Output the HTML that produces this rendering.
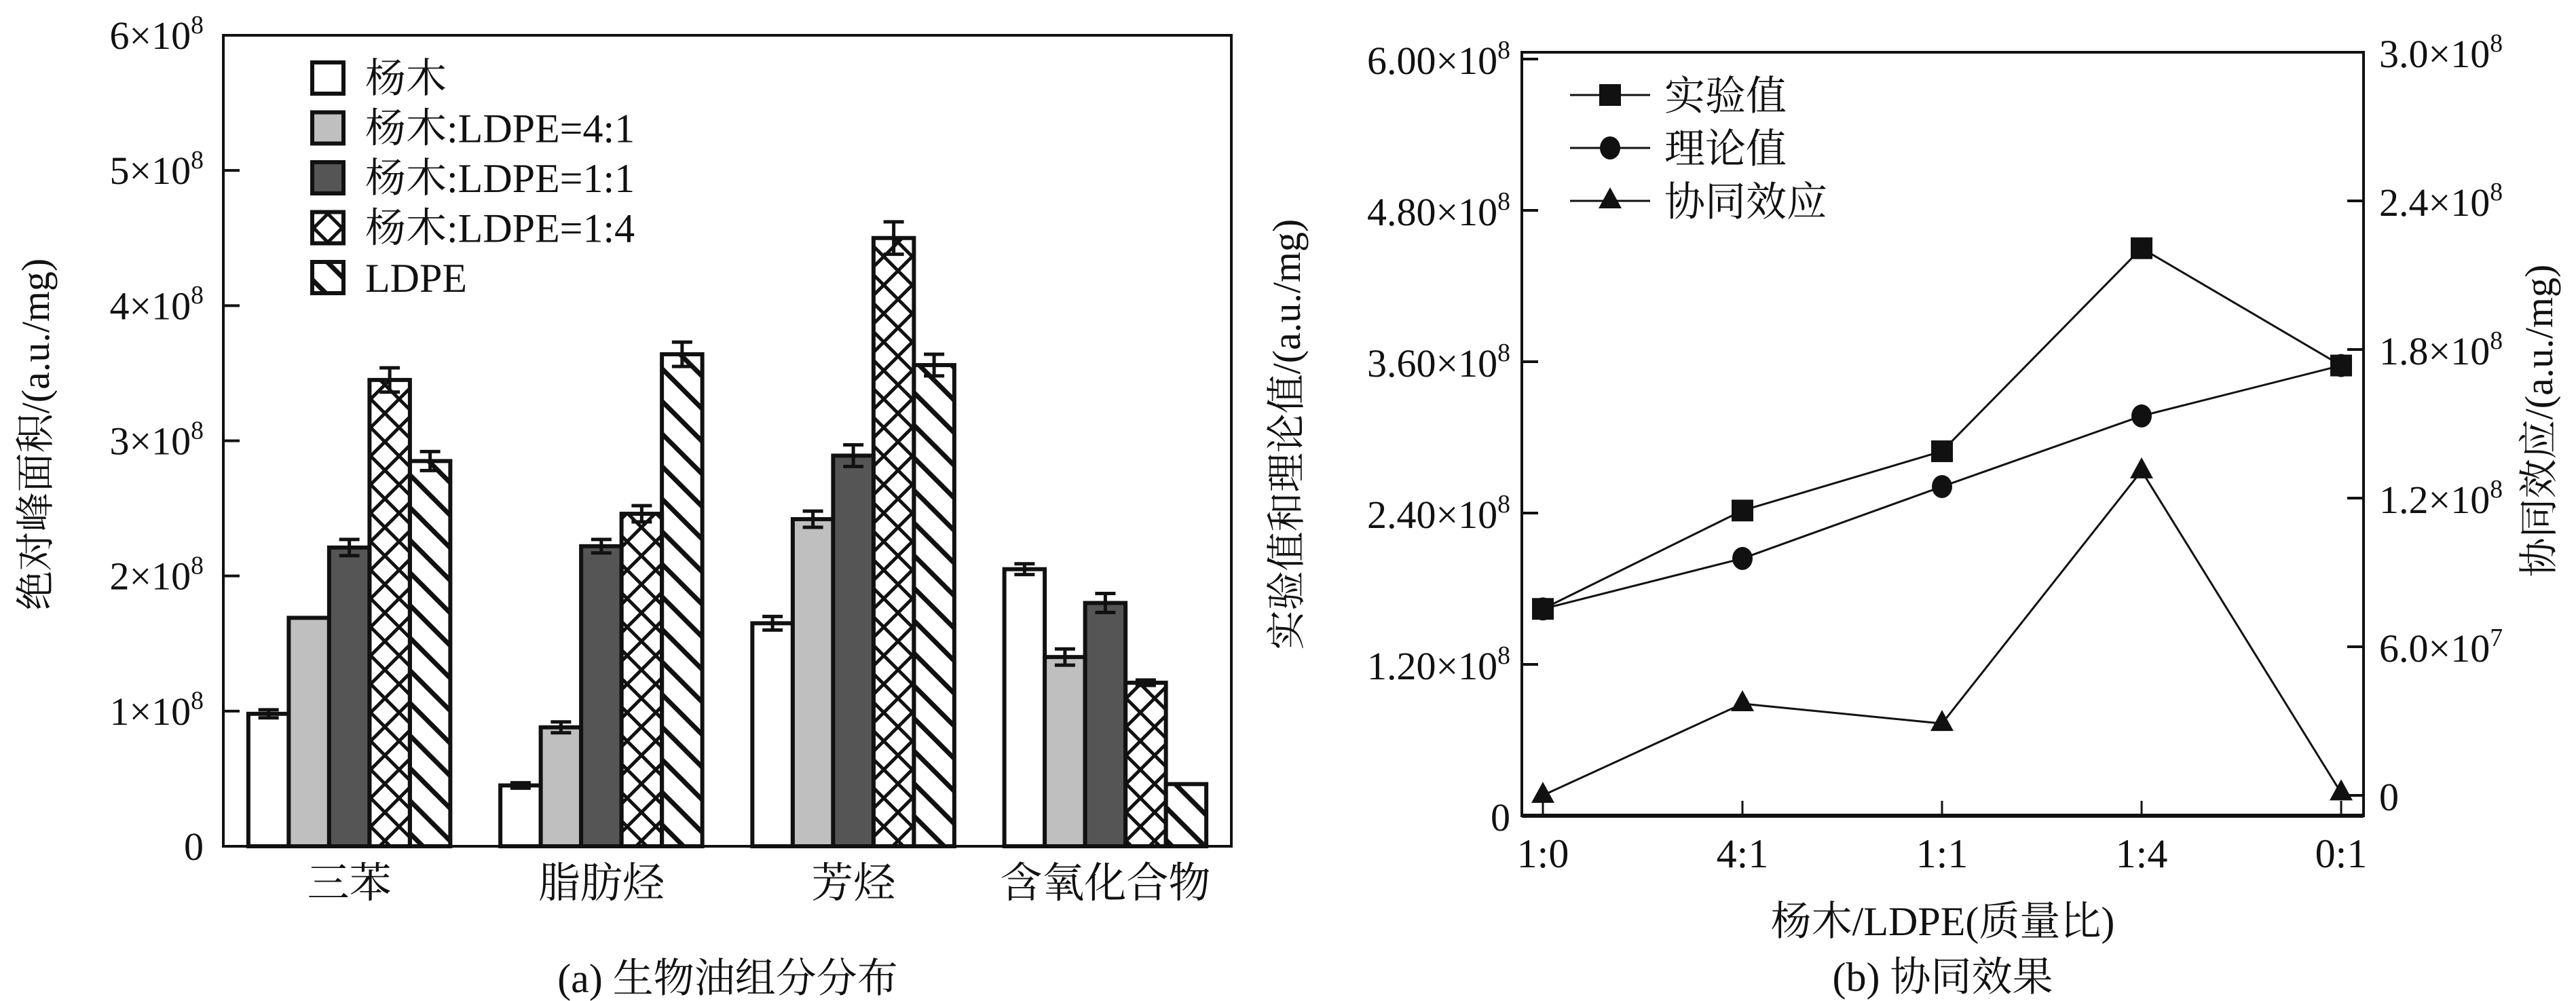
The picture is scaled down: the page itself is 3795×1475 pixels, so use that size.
<!DOCTYPE html>
<html><head><meta charset="utf-8">
<style>
html,body{margin:0;padding:0;background:#fff;}
svg{display:block;}
text{font-family:"Liberation Serif","Noto Serif CJK SC",serif;fill:#111;}
</style></head>
<body>
<svg id="chart" width="3795" height="1475" viewBox="0 0 3795 1475" xmlns="http://www.w3.org/2000/svg">
<defs>
<pattern id="cross" patternUnits="userSpaceOnUse" width="42" height="42">
<path d="M0,0L42,42M42,0L0,42M-5,37L5,47M37,-5L47,5M-5,5L5,-5M37,47L47,37" stroke="#111" stroke-width="5"/>
</pattern>
<pattern id="diag" patternUnits="userSpaceOnUse" width="48" height="48">
<path d="M0,0L48,48M-12,36L12,60M36,-12L60,12" stroke="#111" stroke-width="7"/>
</pattern>
</defs>
<g id="left"></g>
<g id="right"></g>
</svg>
<script>
const categories = ["三苯","脂肪烃","芳烃","含氧化合物"];
const seriesNames = ["杨木","杨木:LDPE=4:1","杨木:LDPE=1:1","杨木:LDPE=1:4","LDPE"];
const valPoplar = [0.98,0.45,1.65,2.05];
const val41 = [1.69,0.88,2.42,1.40];
const val11 = [2.21,2.22,2.89,1.80];
const val14 = [3.45,2.46,4.50,1.21];
const valLDPE = [2.85,3.64,3.56,0.46];
const errPoplar = [0.03,0.02,0.05,0.04];
const err41 = [0,0.04,0.06,0.06];
const err11 = [0.06,0.05,0.08,0.07];
const err14 = [0.09,0.06,0.12,0.02];
const errLDPE = [0.07,0.09,0.08,0];
const leftTicks = [0,1,2,3,4,5,6];

const ratios = ["1:0","4:1","1:1","1:4","0:1"];
const expVals = [1.64,2.42,2.89,4.50,3.57];
const theoVals = [1.64,2.04,2.61,3.17,3.57];
const synVals = [0.0,0.37,0.29,1.31,0.01];
const rLeftTicks = ["0","1.20","2.40","3.60","4.80","6.00"];
const rRightTicks = ["0","6.0","1.2","1.8","2.4","3.0"];
const rRightExp = [0,7,8,8,8,8];

const NS="http://www.w3.org/2000/svg";
function mk(parent,tag,attrs,txt){const e=document.createElementNS(NS,tag);for(const k in attrs)e.setAttribute(k,attrs[k]);if(txt!==undefined)e.textContent=txt;parent.appendChild(e);return e;}
function sci(parent,x,y,mant,exp,anchor,size){
  const t=mk(parent,'text',{x:x,y:y,'text-anchor':anchor,'font-size':size});
  if(exp===null){t.textContent=mant;return t;}
  const a=document.createElementNS(NS,'tspan');a.textContent=mant+'×10';t.appendChild(a);
  const b=document.createElementNS(NS,'tspan');b.setAttribute('dy',-size*0.4);b.setAttribute('font-size',size*0.65);b.textContent=exp;t.appendChild(b);
  return t;
}

/* ---------- left bar chart ---------- */
const L=document.getElementById('left');
const lx0=329,lx1=1814,ly0=52,ly1=1247;
const yL=v=>ly1-(v/6)*(ly1-ly0);
const groupW=(lx1-lx0)/categories.length, barW=59.5;
const fills=["#fff","#bfbfbf","#555","url(#cross)","url(#diag)"];
const allVals=[valPoplar,val41,val11,val14,valLDPE];
const allErr=[errPoplar,err41,err11,err14,errLDPE];
const keys=['poplar','4-1','1-1','1-4','ldpe'];
let f=mk(L,'rect',{x:lx0,y:ly0,width:lx1-lx0,height:ly1-ly0,fill:'none',stroke:'#111','stroke-width':4});

leftTicks.forEach(v=>{
  const y=yL(v);
  const tk=mk(L,'line',{x1:lx0,x2:lx0+24,y1:y,y2:y,stroke:'#111','stroke-width':4});
  
  const t=sci(L,300,y+20,v===0?'0':String(v),v===0?null:'8','end',58);
  
});
categories.forEach((c,i)=>{
  const gx=lx0+groupW*i+groupW/2-barW*2.5;
  allVals.forEach((arr,s)=>{
    const x=gx+s*barW, v=arr[i];
    const r=mk(L,'rect',{x:x,y:yL(v),width:barW,height:ly1-yL(v),fill:fills[s],stroke:'#111','stroke-width':6});
    
    const e=allErr[s][i];
    if(e>0){
      const cx=x+barW/2,ya=yL(v+e),yb=yL(v-e);
      const g=mk(L,'path',{d:`M${cx},${ya}V${yb}M${cx-15},${ya}H${cx+15}M${cx-15},${yb}H${cx+15}`,stroke:'#111','stroke-width':5,fill:'none'});
      
    }
  });
  const t=mk(L,'text',{x:lx0+groupW*i+groupW/2,y:1322,'text-anchor':'middle','font-size':62},c);
  
});
seriesNames.forEach((n,s)=>{
  const y=92+s*73.5;
  const b=mk(L,'rect',{x:460,y:y,width:46,height:46,fill:fills[s],stroke:'#111','stroke-width':6});
  
  const t=mk(L,'text',{x:538,y:y+44,'font-size':60},n);
  
});
let lt=mk(L,'text',{x:0,y:0,'text-anchor':'middle','font-size':58,transform:'translate(72,640) rotate(-90)'},'绝对峰面积/(a.u./mg)');

let cap=mk(L,'text',{x:1072,y:1462,'text-anchor':'middle','font-size':60},'(a) 生物油组分分布');


/* ---------- right line chart ---------- */
const R=document.getElementById('right');
const rx0=2242,rx1=3482,ry0=77,ry1=1202;
const xR=i=>2273+i*294;
const yRL=v=>1202-(v/1.2)*223;
const yRR=v=>1172-(v/0.6)*219;
f=mk(R,'rect',{x:rx0,y:ry0,width:rx1-rx0,height:ry1-ry0,fill:'none',stroke:'#111','stroke-width':4});

let bl=mk(R,'line',{x1:rx0,x2:rx1,y1:ry1,y2:ry1,stroke:'#111','stroke-width':6});

rLeftTicks.forEach((s,i)=>{
  const y=yRL(i*1.2);
  const tk=mk(R,'line',{x1:rx0,x2:rx0+24,y1:y,y2:y,stroke:'#111','stroke-width':4});
  
  const t=sci(R,2225,y+22,s,i===0?null:'8','end',58);
  
});
rRightTicks.forEach((s,i)=>{
  const y=yRR(i*0.6);
  const tk=mk(R,'line',{x1:rx1-24,x2:rx1,y1:y,y2:y,stroke:'#111','stroke-width':4});
  
  const t=sci(R,3505,y+22,s,i===0?null:String(rRightExp[i]),'start',58);
  
});
ratios.forEach((r,i)=>{
  const tk=mk(R,'line',{x1:xR(i),x2:xR(i),y1:ry1,y2:ry1-22,stroke:'#111','stroke-width':3});
  
  const t=mk(R,'text',{x:xR(i),y:1278,'text-anchor':'middle','font-size':60},r);
  
});
function series(vals,yf,name,marker){
  const d=vals.map((v,i)=>(i?'L':'M')+xR(i)+','+yf(v)).join('');
  const p=mk(R,'path',{d:d,fill:'none',stroke:'#111','stroke-width':3});
  
  vals.forEach((v,i)=>{const m=marker(R,xR(i),yf(v));});
}
const sq=(p,x,y)=>mk(p,'rect',{x:x-16,y:y-16,width:32,height:32,fill:'#111'});
const ci=(p,x,y)=>mk(p,'ellipse',{cx:x,cy:y,rx:15,ry:17,fill:'#111'});
const tr=(p,x,y)=>mk(p,'path',{d:`M${x},${y-20}L${x+17},${y+11}L${x-17},${y+11}Z`,fill:'#111'});
series(expVals,yRL,'experimental',sq);
series(theoVals,yRL,'theoretical',ci);
series(synVals,yRR,'synergy',tr);
const legItems=[['实验值',sq,'experimental'],['理论值',ci,'theoretical'],['协同效应',tr,'synergy']];
legItems.forEach((it,k)=>{
  const y=140+k*78;
  const l=mk(R,'line',{x1:2313,x2:2431,y1:y,y2:y,stroke:'#111','stroke-width':3});
  
  const m=it[1](R,2372,y);
  const t=mk(R,'text',{x:2452,y:y+22,'font-size':60},it[0]);
  
});
let t1=mk(R,'text',{x:0,y:0,'text-anchor':'middle','font-size':58,transform:'translate(1915,640) rotate(-90)'},'实验值和理论值/(a.u./mg)');

let t2=mk(R,'text',{x:0,y:0,'text-anchor':'middle','font-size':58,transform:'translate(3760,620) rotate(-90)'},'协同效应/(a.u./mg)');

let t3=mk(R,'text',{x:2862,y:1378,'text-anchor':'middle','font-size':60},'杨木/LDPE(质量比)');

let t4=mk(R,'text',{x:2862,y:1460,'text-anchor':'middle','font-size':60},'(b) 协同效果');

</script>
</body></html>
